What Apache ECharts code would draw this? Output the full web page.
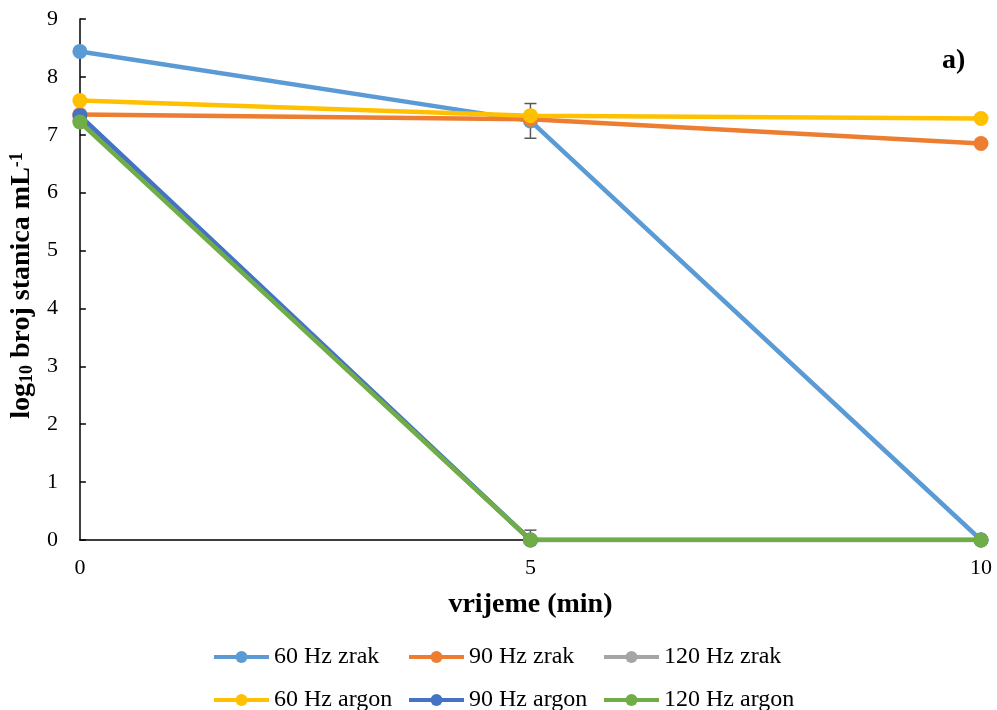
<!DOCTYPE html>
<html><head><meta charset="utf-8">
<script src="https://cdn.jsdelivr.net/npm/echarts@6/dist/echarts.min.js"></script>
<style>html,body{margin:0;padding:0;background:#fff}#c{width:997px;height:710px}</style>
</head><body><div id="c"></div>
<script>
var times = [0, 5, 10];
var names = ['60 Hz zrak','90 Hz zrak','120 Hz zrak','60 Hz argon','90 Hz argon','120 Hz argon'];
var colors = ['#5B9BD5','#ED7D31','#A5A5A5','#FFC000','#4472C4','#70AD47'];
var zrak60 = [8.44, 7.24, 0];
var zrak90 = [7.35, 7.27, 6.85];
var zrak120 = [7.25, 0, 0];
var argon60 = [7.59, 7.33, 7.28];
var argon90 = [7.33, 0, 0];
var argon120 = [7.22, 0, 0];
var allSeries = [zrak60, zrak90, zrak120, argon60, argon90, argon120];
// error bars: [x, low, high]
var errBars = [[5, 6.94, 7.54], [5, 0, 0.17]];

var font = 'Liberation Serif, Times New Roman, serif';
var chart = echarts.init(document.getElementById('c'));
var series = [];
series.push({
  type: 'custom', name: 'err', silent: true, z: 1,
  data: errBars,
  renderItem: function (params, api) {
    var x = api.value(0), lo = api.value(1), hi = api.value(2);
    var p1 = api.coord([x, lo]), p2 = api.coord([x, hi]);
    var w = 6;
    var st = {stroke: '#595959', lineWidth: 1.5};
    return {type: 'group', children: [
      {type: 'line', shape: {x1: p1[0], y1: p1[1], x2: p2[0], y2: p2[1]}, style: st},
      {type: 'line', shape: {x1: p1[0]-w, y1: p1[1], x2: p1[0]+w, y2: p1[1]}, style: st},
      {type: 'line', shape: {x1: p2[0]-w, y1: p2[1], x2: p2[0]+w, y2: p2[1]}, style: st}
    ]};
  }
});
names.forEach(function (n, i) {
  series.push({
    type: 'line', name: n, z: 2,
    data: times.map(function (t, j) { return [t, allSeries[i][j]]; }),
    symbol: 'circle', symbolSize: 15, showSymbol: true,
    lineStyle: {color: colors[i], width: 4.5},
    itemStyle: {color: colors[i]},
    emphasis: {disabled: true}
  });
});
var legLefts = [212, 407, 602];
var legTops = [645, 688];
var legends = names.map(function (n, i) {
  return {
    orient: 'horizontal', itemWidth: 55, itemHeight: 15, itemGap: 0, padding: 0,
    textStyle: {fontFamily: font, fontSize: 24, color: '#000'},
    lineStyle: {width: 4},
    selectedMode: false,
    left: legLefts[i % 3], top: legTops[Math.floor(i / 3)],
    data: [n]
  };
});
chart.setOption({
  animation: false,
  color: colors,
  grid: {left: 79, right: 16, top: 19, bottom: 170},
  xAxis: {
    type: 'value', min: 0, max: 10, interval: 5,
    name: 'vrijeme (min)', nameLocation: 'middle', nameGap: 51,
    nameTextStyle: {fontFamily: font, fontSize: 28, fontWeight: 'bold', color: '#000'},
    axisLine: {lineStyle: {color: '#000', width: 1.5}},
    axisTick: {show: false},
    splitLine: {show: false},
    axisLabel: {fontFamily: font, fontSize: 22, color: '#000', margin: 17}
  },
  yAxis: {
    type: 'value', min: 0, max: 9, interval: 1,
    name: '{b|log}{s|10}{b| broj stanica mL}{u|-1}', nameLocation: 'middle', nameGap: 32,
    nameTextStyle: {fontFamily: font, fontSize: 28, fontWeight: 'bold', color: '#000',
      padding: [0, 12, 0, 0],
      rich: {
        b: {fontFamily: font, fontSize: 28, fontWeight: 'bold', color: '#000'},
        s: {fontFamily: font, fontSize: 18, fontWeight: 'bold', color: '#000', verticalAlign: 'bottom', padding: [10,0,0,0]},
        u: {fontFamily: font, fontSize: 18, fontWeight: 'bold', color: '#000', verticalAlign: 'top', padding: [0,0,10,0]}
      }},
    axisLine: {show: true, lineStyle: {color: '#000', width: 1.5}},
    axisTick: {show: true, inside: true, length: 6, lineStyle: {color: '#000', width: 1.5}},
    splitLine: {show: false},
    axisLabel: {fontFamily: font, fontSize: 22, color: '#000', margin: 22}
  },
  legend: legends,
  graphic: [{type: 'text', left: 942, top: 47, style: {text: 'a)', font: 'bold 28px ' + font, fill: '#000'}}],
  series: series
});
</script></body></html>
